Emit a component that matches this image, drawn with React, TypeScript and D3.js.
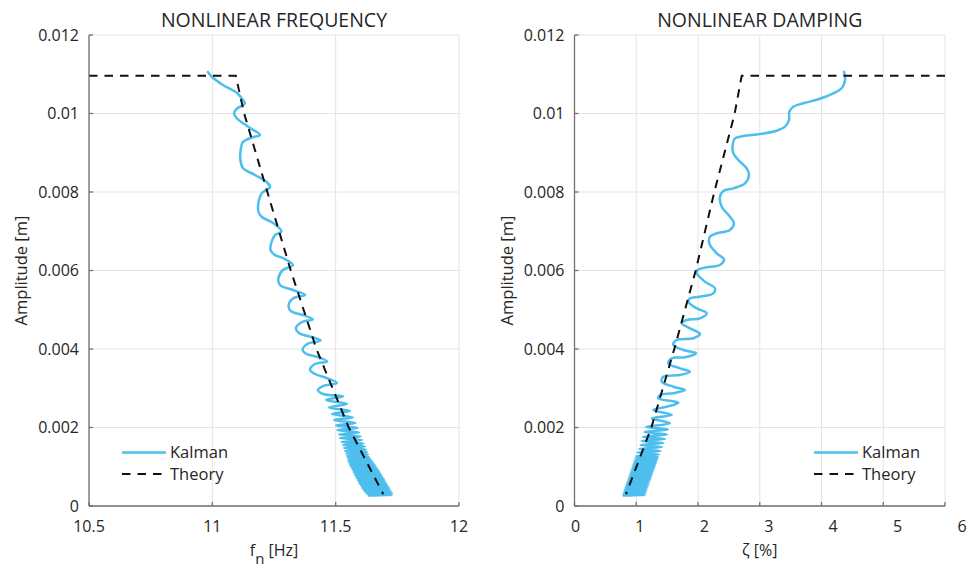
import React from 'react';
import * as d3 from 'd3';

// ---------- data ----------
const yTickValues = [0, 0.002, 0.004, 0.006, 0.008, 0.01, 0.012];
const yTickLabels = ['0', '0.002', '0.004', '0.006', '0.008', '0.01', '0.012'];
const freqTickValues = [10.5, 11, 11.5, 12];
const freqTickLabels = ['10.5', '11', '11.5', '12'];
const dampTickValues = [0, 1, 2, 3, 4, 5, 6];
const dampTickLabels = ['0', '1', '2', '3', '4', '5', '6'];

const titles = ['NONLINEAR FREQUENCY', 'NONLINEAR DAMPING'];
const legendLabels = ['Kalman', 'Theory'];

// Nonlinear frequency – Kalman estimate (fn [Hz], amplitude [m])
const freqKalmanF = [
  10.982, 10.999, 11.043, 11.1, 11.124, 11.132, 11.1, 11.088, 11.1, 11.153,
  11.193, 11.161, 11.124, 11.116, 11.114, 11.124, 11.173, 11.22, 11.234, 11.201,
  11.189, 11.187, 11.201, 11.246, 11.28, 11.254, 11.24, 11.236, 11.254, 11.286,
  11.327, 11.286, 11.268, 11.274, 11.327, 11.376, 11.327, 11.309, 11.321, 11.368,
  11.408, 11.364, 11.339, 11.351, 11.402, 11.439, 11.388, 11.366, 11.382, 11.428,
  11.465, 11.416, 11.396, 11.416, 11.463, 11.505, 11.449, 11.428, 11.449, 11.53,
  11.461, 11.546, 11.473, 11.558, 11.485, 11.57, 11.493, 11.58, 11.501, 11.589,
  11.507, 11.595, 11.514, 11.601, 11.518, 11.607, 11.524, 11.613, 11.53, 11.619,
  11.534, 11.623, 11.538, 11.627, 11.542, 11.631,
  11.546, 11.635, 11.548, 11.641, 11.55, 11.647, 11.552, 11.653, 11.556, 11.659,
  11.56, 11.664, 11.564, 11.67, 11.568, 11.676, 11.572, 11.68, 11.576, 11.686,
  11.58, 11.69, 11.584, 11.696, 11.589, 11.7, 11.593, 11.706, 11.597, 11.71,
  11.603, 11.716, 11.607, 11.72, 11.613, 11.724, 11.619, 11.73, 11.627, 11.728,
  11.635,
];
const freqKalmanA = [
  0.011057, 0.01093, 0.010726, 0.010522, 0.010344, 0.010255, 0.010127, 0.010013, 0.009873, 0.009631,
  0.009452, 0.009389, 0.009274, 0.009121, 0.008815, 0.008611, 0.008433, 0.008255, 0.008127, 0.007975,
  0.007796, 0.00749, 0.007363, 0.00721, 0.006994, 0.006904, 0.006726, 0.006522, 0.006395, 0.006318,
  0.00614, 0.006013, 0.005809, 0.005631, 0.005503, 0.005376, 0.005287, 0.005083, 0.004955, 0.004866,
  0.004752, 0.004688, 0.004535, 0.004408, 0.004306, 0.004217, 0.00414, 0.003975, 0.003873, 0.003796,
  0.003682, 0.003618, 0.003465, 0.003363, 0.003261, 0.003134, 0.003057, 0.002955, 0.002854, 0.00279,
  0.0027, 0.002599, 0.00251, 0.00242, 0.002344, 0.002255, 0.002191, 0.002115, 0.002051, 0.001987,
  0.001936, 0.001873, 0.001822, 0.001771, 0.001732, 0.001682, 0.001631, 0.001592, 0.001554, 0.001516,
  0.001478, 0.001439, 0.001401, 0.001376, 0.001338, 0.001312,
  0.001274, 0.001248, 0.001223, 0.001198, 0.001172, 0.001147, 0.001121, 0.001096, 0.00107, 0.001045,
  0.001019, 0.000994, 0.000968, 0.000943, 0.000917, 0.000892, 0.000866, 0.000841, 0.000815, 0.00079,
  0.000764, 0.000739, 0.000713, 0.000688, 0.000662, 0.000637, 0.000612, 0.000586, 0.000561, 0.000535,
  0.00051, 0.000484, 0.000459, 0.000433, 0.000408, 0.000382, 0.000357, 0.000331, 0.000306, 0.00028,
  0.000268,
];

// Nonlinear frequency – theory
const freqTheoryF = [10.5, 11.095, 11.129, 11.223, 11.318, 11.422, 11.553, 11.693];
const freqTheoryA = [0.01096, 0.01096, 0.01, 0.008, 0.006, 0.004, 0.002, 0.0003];

// Nonlinear damping – Kalman estimate (zeta [%], amplitude [m])
const dampKalmanZ = [
  4.364, 4.381, 4.327, 4.191, 3.948, 3.705, 3.543, 3.479, 3.474, 3.409,
  3.274, 3.004, 2.734, 2.599, 2.562, 2.572, 2.653, 2.789, 2.826, 2.761,
  2.572, 2.41, 2.356, 2.384, 2.518, 2.583, 2.518, 2.303, 2.194, 2.183,
  2.303, 2.421, 2.356, 2.141, 1.995, 1.979, 2.113, 2.275, 2.248, 2.032,
  1.87, 1.843, 1.979, 2.141, 2.032, 1.817, 1.736, 1.87, 2.032, 1.924,
  1.655, 1.6, 1.762, 1.968, 1.789, 1.574, 1.519, 1.709, 1.87, 1.709,
  1.438, 1.412, 1.6, 1.789, 1.6, 1.385, 1.357, 1.681, 1.493, 1.276,
  1.574, 1.25, 1.547,
  1.158, 1.514, 1.134, 1.498, 1.109, 1.466, 1.085, 1.441, 1.069, 1.417,
  1.045, 1.393, 1.02, 1.368,
  0.996, 1.352, 0.985, 1.341, 0.973, 1.33, 0.964, 1.318, 0.952, 1.307,
  0.941, 1.296, 0.931, 1.284, 0.92, 1.273, 0.909, 1.262, 0.899, 1.25,
  0.887, 1.239, 0.876, 1.228, 0.866, 1.216, 0.855, 1.205, 0.844, 1.194,
  0.834, 1.182, 0.823, 1.171, 0.811, 1.161, 0.802, 1.151, 0.794, 1.142,
  0.794,
];
const dampKalmanA = [
  0.011065, 0.010854, 0.010642, 0.010515, 0.010362, 0.01026, 0.010173, 0.010046, 0.009834, 0.009664,
  0.009562, 0.009478, 0.009427, 0.009368, 0.009197, 0.008986, 0.008815, 0.008604, 0.008433, 0.008222,
  0.008094, 0.008025, 0.00788, 0.007625, 0.007371, 0.007203, 0.007032, 0.006948, 0.006861, 0.006693,
  0.006438, 0.006285, 0.00614, 0.006081, 0.006013, 0.005929, 0.005715, 0.005546, 0.005419, 0.005333,
  0.005292, 0.005205, 0.005037, 0.00491, 0.004782, 0.004739, 0.004655, 0.004527, 0.004382, 0.004273,
  0.004229, 0.004102, 0.003975, 0.00389, 0.003788, 0.003763, 0.003636, 0.003508, 0.003422, 0.003338,
  0.003294, 0.003167, 0.003039, 0.002955, 0.002871, 0.002828, 0.002744, 0.002632, 0.00253, 0.002446,
  0.002318, 0.002234, 0.002107,
  0.002013, 0.001949, 0.001885, 0.001822, 0.001758, 0.001707, 0.001656, 0.001605, 0.001554, 0.001503,
  0.001452, 0.001401, 0.001363, 0.001312,
  0.001274, 0.001248, 0.001223, 0.001198, 0.001172, 0.001147, 0.001121, 0.001096, 0.00107, 0.001045,
  0.001019, 0.000994, 0.000968, 0.000943, 0.000917, 0.000892, 0.000866, 0.000841, 0.000815, 0.00079,
  0.000764, 0.000739, 0.000713, 0.000688, 0.000662, 0.000637, 0.000612, 0.000586, 0.000561, 0.000535,
  0.00051, 0.000484, 0.000459, 0.000433, 0.000408, 0.000382, 0.000357, 0.000331, 0.000306, 0.00028,
  0.000268,
];

// Nonlinear damping – theory
const dampTheoryZ = [6, 2.708, 2.594, 2.264, 1.963, 1.616, 1.245, 0.834];
const dampTheoryA = [0.01096, 0.01096, 0.01, 0.008, 0.006, 0.004, 0.002, 0.0003];

// ---------- styling ----------
const FONT = "'Open Sans', 'DejaVu Sans', sans-serif";
const TEXT = '#262626';
const AXIS = '#707070';
const GRID = '#e4e4e4';
const BLUE = '#4DBEEE';
const DASH = '8.5,7';

type PanelProps = {
  left: number;
  right: number;
  xDomain: [number, number];
  xTicks: number[];
  xTickLabels: string[];
  xLabelRange?: [number, number];
  title: string;
  xLabel: React.ReactNode;
  yLabelX: number;
  kalmanX: number[];
  kalmanY: number[];
  theoryX: number[];
  theoryY: number[];
  legendX: number;
};

const TOP = 35;
const BOTTOM = 506;

function Panel(p: PanelProps) {
  const x = d3.scaleLinear().domain(p.xDomain).range([p.left, p.right]);
  const y = d3.scaleLinear().domain([0, 0.012]).range([BOTTOM, TOP]);
  const xl = p.xLabelRange
    ? d3.scaleLinear().domain(p.xDomain).range(p.xLabelRange)
    : x;
  const line = d3
    .line<[number, number]>()
    .x((d) => x(d[0]))
    .y((d) => y(d[1]));
  const kalman: [number, number][] = p.kalmanX.map((v, i) => [v, p.kalmanY[i]]);
  const theory: [number, number][] = p.theoryX.map((v, i) => [v, p.theoryY[i]]);
  const kalmanPath = line.curve(d3.curveCatmullRom.alpha(0.5))(kalman) || '';
  const theoryPath = line.curve(d3.curveLinear)(theory) || '';
  const cx = (p.left + p.right) / 2;

  return (
    <g>
      {/* grid */}
      {p.xTicks.map((t) => (
        <line key={'gx' + t} x1={x(t)} x2={x(t)} y1={TOP} y2={BOTTOM} stroke={GRID} strokeWidth={1} />
      ))}
      {yTickValues.map((t) => (
        <line key={'gy' + t} x1={p.left} x2={p.right} y1={y(t)} y2={y(t)} stroke={GRID} strokeWidth={1} />
      ))}
      {/* data */}
      <clipPath id={'clip' + Math.round(p.left)}>
        <rect x={p.left} y={TOP - 2} width={p.right - p.left + 1} height={BOTTOM - TOP + 2} />
      </clipPath>
      <g clipPath={`url(#clip${Math.round(p.left)})`}>
        <path d={kalmanPath} fill="none" stroke={BLUE} strokeWidth={2.5} strokeLinejoin="round" strokeLinecap="round" />
        <path d={theoryPath} fill="none" stroke="#111" strokeWidth={2} strokeDasharray={DASH} />
      </g>
      {/* axes */}
      <line x1={p.left} x2={p.left} y1={TOP} y2={BOTTOM} stroke={AXIS} strokeWidth={1.3} />
      <line x1={p.left} x2={p.right} y1={BOTTOM} y2={BOTTOM} stroke={AXIS} strokeWidth={1.3} />
      {p.xTicks.map((t, i) => (
        <g key={'xt' + t}>
          <line x1={x(t)} x2={x(t)} y1={BOTTOM} y2={BOTTOM - 4} stroke={AXIS} strokeWidth={1.3} />
          <text x={xl(t)} y={532} textAnchor="middle" fontSize={16} fill={TEXT} fontFamily={FONT}>
            {p.xTickLabels[i]}
          </text>
        </g>
      ))}
      {yTickValues.map((t, i) => (
        <g key={'yt' + t}>
          <line x1={p.left} x2={p.left + 4} y1={y(t)} y2={y(t)} stroke={AXIS} strokeWidth={1.3} />
          <text x={p.left - 10} y={y(t)} dy="0.35em" textAnchor="end" fontSize={16} fill={TEXT} fontFamily={FONT}>
            {yTickLabels[i]}
          </text>
        </g>
      ))}
      {/* title */}
      <text x={cx} y={27} textAnchor="middle" fontSize={19.5} fill={TEXT} fontFamily={FONT}>
        {p.title}
      </text>
      {/* x label */}
      <text x={cx} y={556} textAnchor="middle" fontSize={16} fill={TEXT} fontFamily={FONT}>
        {p.xLabel}
      </text>
      {/* y label */}
      <text
        transform={`translate(${p.yLabelX},${(TOP + BOTTOM) / 2}) rotate(-90)`}
        textAnchor="middle"
        fontSize={16.5}
        fill={TEXT}
        fontFamily={FONT}
      >
        Amplitude [m]
      </text>
      {/* legend */}
      <line x1={p.legendX} x2={p.legendX + 44} y1={452.5} y2={452.5} stroke={BLUE} strokeWidth={2.5} />
      <text x={p.legendX + 48} y={452.5} dy="0.35em" fontSize={16.5} fill={TEXT} fontFamily={FONT}>
        {legendLabels[0]}
      </text>
      <line x1={p.legendX} x2={p.legendX + 44} y1={474} y2={474} stroke="#111" strokeWidth={2} strokeDasharray={DASH} />
      <text x={p.legendX + 48} y={474} dy="0.35em" fontSize={16.5} fill={TEXT} fontFamily={FONT}>
        {legendLabels[1]}
      </text>
    </g>
  );
}

export default function App() {
  return (
    <svg
      width={970}
      height={571}
      viewBox="0 0 970 571"
      style={{ position: 'absolute', left: 0, top: 0, background: '#fff' }}
    >
      <rect x={0} y={0} width={970} height={571} fill="#fff" />
      <Panel
        left={89}
        right={459}
        xDomain={[10.5, 12]}
        xTicks={freqTickValues}
        xTickLabels={freqTickLabels}
        title={titles[0]}
        xLabel={
          <>
            <tspan>f</tspan>
            <tspan fontSize={15} dy={8}>n</tspan>
            <tspan dy={-8}> [Hz]</tspan>
          </>
        }
        yLabelX={27}
        kalmanX={freqKalmanF}
        kalmanY={freqKalmanA}
        theoryX={freqTheoryF}
        theoryY={freqTheoryA}
        legendX={122}
      />
      <Panel
        left={574.5}
        right={945}
        xDomain={[0, 6]}
        xTicks={dampTickValues}
        xTickLabels={dampTickLabels}
        xLabelRange={[575.5, 962]}
        title={titles[1]}
        xLabel={<tspan>ζ [%]</tspan>}
        yLabelX={513}
        kalmanX={dampKalmanZ}
        kalmanY={dampKalmanA}
        theoryX={dampTheoryZ}
        theoryY={dampTheoryA}
        legendX={814}
      />
    </svg>
  );
}
